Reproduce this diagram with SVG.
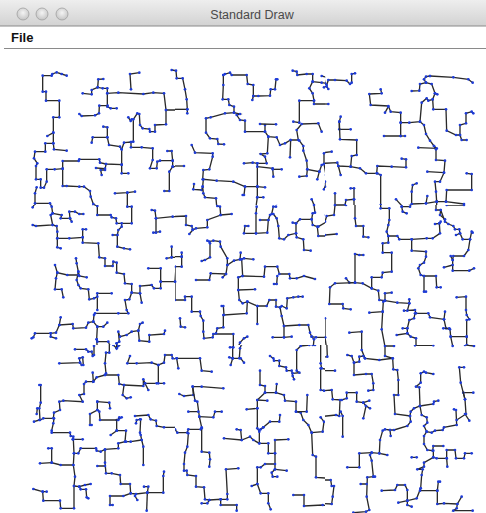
<svg xmlns="http://www.w3.org/2000/svg" width="486" height="513" viewBox="0 0 486 513">
<style>
.t{fill:none;stroke:#2a2a2a;stroke-width:4;stroke-linejoin:miter;marker-start:url(#d);marker-mid:url(#d);marker-end:url(#d)}
.title{font-family:"Liberation Sans",Arial,sans-serif;font-size:12.5px;fill:#4a4a4a}
.menu{font-family:"Liberation Sans",Arial,sans-serif;font-size:13px;font-weight:bold;fill:#111}
</style>
<defs>
<linearGradient id="tb" x1="0" y1="0" x2="0" y2="1"><stop offset="0" stop-color="#eeeeee"/><stop offset="1" stop-color="#d2d2d2"/></linearGradient>
<radialGradient id="btn" cx="0.5" cy="0.4" r="0.6"><stop offset="0" stop-color="#f4f4f4"/><stop offset="1" stop-color="#c4c4c4"/></radialGradient>
<marker id="d" markerUnits="userSpaceOnUse" markerWidth="14" markerHeight="14" refX="7" refY="7" overflow="visible"><circle cx="7" cy="7" r="4" fill="#1d3bd8"/></marker>
<clipPath id="c2"><rect x="0" y="0" width="465" height="435"/></clipPath>
<clipPath id="c3"><rect x="15" y="0" width="450" height="435"/></clipPath>
<clipPath id="c4"><rect x="15" y="0" width="483" height="435"/></clipPath>
<clipPath id="c5"><rect x="0" y="15" width="465" height="420"/></clipPath>
<clipPath id="c6"><rect x="15" y="15" width="450" height="420"/></clipPath>
<clipPath id="c7"><rect x="15" y="15" width="483" height="420"/></clipPath>
<clipPath id="c8"><rect x="0" y="15" width="465" height="505"/></clipPath>
<clipPath id="c9"><rect x="15" y="15" width="450" height="505"/></clipPath>
<clipPath id="c10"><rect x="15" y="15" width="483" height="505"/></clipPath>
</defs>
<rect width="486" height="513" fill="#ffffff"/>
<g id="window">
<rect x="0" y="0" width="486" height="26" fill="url(#tb)"/>
<line x1="0" y1="26" x2="486" y2="26" stroke="#8a8a8a" stroke-width="1"/>
<circle cx="23" cy="14" r="6" fill="url(#btn)" stroke="#a0a0a0" stroke-width="0.8"/>
<circle cx="42" cy="14" r="6" fill="url(#btn)" stroke="#a0a0a0" stroke-width="0.8"/>
<circle cx="62" cy="14" r="6" fill="url(#btn)" stroke="#a0a0a0" stroke-width="0.8"/>
<text class="title" x="252" y="19" text-anchor="middle">Standard Draw</text>
<text class="menu" x="11" y="42">File</text>
<line x1="4" y1="48.5" x2="486" y2="48.5" stroke="#8a8a8a" stroke-width="1"/>
</g>
<g id="connectors">
<g id="r2" transform="translate(20,60) scale(0.33333)" clip-path="url(#c2)">
<path class="t" d="M140 47 L125 42 L110 37 L97 42 L95 47 L68 47 L68 95 L78 95 L78 122 L118 122 L118 172 L100 172 L100 218 L100 250 L102 268 L140 272"/>
<path class="t" d="M100 218 L82 228"/>
<path class="t" d="M100 250 L76 250 L76 275 L45 275 L42 295 L52 310 L48 318 L48 358 L62 358 L62 383 L72 383 L80 365 L80 328 L104 328 L128 326 L128 378 L140 378 L178 380 L192 380 L210 393 L212 410 L220 432 L232 440"/>
<path class="t" d="M128 326 L128 303 L176 303 L178 298 L238 298 L240 308 L258 312 L305 314 L305 340 L325 340"/>
<path class="t" d="M258 312 L255 330 L242 330 L245 345"/>
<path class="t" d="M228 324 L255 326"/>
<path class="t" d="M305 314 L305 268 L312 248 L333 246 L333 262 L365 262 L398 265 L398 300 L390 325 L410 325 L412 305 L420 302 L458 302 L458 320 L478 320"/>
<path class="t" d="M442 273 L455 273 L458 302"/>
<path class="t" d="M458 320 L448 335 L448 393 L433 393"/>
<path class="t" d="M333 246 L340 245 L340 178 L352 160 L358 162 L360 195 L368 205 L388 207 L390 215 L405 215 L405 195 L438 193 L438 150 L480 150"/>
<path class="t" d="M438 150 L432 100 L400 98 L370 102 L295 98 L262 100 L262 85 L248 85 L233 82 L235 58 L250 57"/>
<path class="t" d="M262 100 L262 140 L272 145 L290 145"/>
<path class="t" d="M233 82 L215 90 L215 103 L188 100"/>
<path class="t" d="M333 88 L330 42 L358 38"/>
<path class="t" d="M325 172 L332 183 L335 178"/>
<path class="t" d="M178 162 L185 168 L225 166 L237 160 L238 137 L263 137"/>
<path class="t" d="M250 200 L262 202 L262 232 L218 232 L215 248"/>
<path class="t" d="M262 232 L267 255 L300 260 L305 268"/>
<path class="t" d="M455 30 L468 32 L470 55"/>
<path class="t" d="M285 400 L322 398 L345 395"/>
<path class="t" d="M322 398 L322 440"/>
<path class="t" d="M45 440 L45 400 L50 382"/>
<path class="t" d="M45 430 L90 430 L95 440"/>
</g>
<g id="r3" transform="translate(170,60) scale(0.33333)" clip-path="url(#c3)">
<path class="t" d="M5 30 L18 32 L20 55 L38 55 L45 88 L50 118 L52 148 L52 160"/>
<path class="t" d="M0 148 L52 148"/>
<path class="t" d="M160 45 L165 42 L180 38 L185 45 L230 45 L233 72 L250 75 L250 108 L265 108 L300 107 L302 88 L315 88 L318 58 L322 58"/>
<path class="t" d="M250 108 L247 120"/>
<path class="t" d="M160 45 L160 75 L158 118 L175 118 L178 135 L192 140 L192 158 L165 160 L122 172 L108 175 L108 218 L120 235 L142 237 L145 252 L162 253"/>
<path class="t" d="M192 158 L210 162 L200 165 L210 180 L225 182 L225 215 L285 215 L285 195"/>
<path class="t" d="M270 192 L318 193"/>
<path class="t" d="M285 215 L295 230 L320 232 L330 255 L345 250 L362 240 L385 240 L380 210 L395 192 L445 190 L455 215"/>
<path class="t" d="M362 240 L360 292"/>
<path class="t" d="M295 230 L292 280 L272 282 L285 290 L290 310 L262 310 L248 308 L222 310"/>
<path class="t" d="M262 310 L262 380 L225 380 L222 405 L218 405"/>
<path class="t" d="M262 320 L308 325 L310 350"/>
<path class="t" d="M308 328 L335 328"/>
<path class="t" d="M262 380 L285 382"/>
<path class="t" d="M262 380 L262 412 L280 412"/>
<path class="t" d="M262 412 L258 440 L262 440"/>
<path class="t" d="M225 380 L190 365 L140 362 L100 358 L98 380 L95 390 L70 388 L72 372"/>
<path class="t" d="M98 380 L100 400 L105 412 L138 415 L140 438 L148 440"/>
<path class="t" d="M65 255 L75 278 L128 280 L128 290 L118 328 L100 330 L98 358"/>
<path class="t" d="M0 275 L8 275 L8 300 L0 300"/>
<path class="t" d="M8 318 L42 318"/>
<path class="t" d="M368 32 L380 35 L382 45 L410 42 L428 42 L428 65 L455 68 L472 70 L470 52 L455 48"/>
<path class="t" d="M428 65 L418 85 L428 100 L432 122 L388 122 L388 188 L370 185"/>
<path class="t" d="M432 122 L432 132 L475 132"/>
<path class="t" d="M462 82 L472 85 L470 70"/>
<path class="t" d="M480 280 L462 280 L462 312 L455 315 L448 335 L412 328 L410 302 L400 272 L400 258 L388 242"/>
<path class="t" d="M412 328 L410 348 L388 350"/>
<path class="t" d="M448 335 L442 358"/>
<path class="t" d="M462 312 L468 345 L468 372 L462 388"/>
<path class="t" d="M315 440 L320 438"/>
<path class="t" d="M425 418 L432 435 L435 448"/>
</g>
<g id="r4" transform="translate(320,60) scale(0.33333)" clip-path="url(#c4)">
<path class="t" d="M0 48 L12 52 L15 70 L20 75 L25 60 L45 60 L80 62 L90 72 L95 68 L95 42 L105 40"/>
<path class="t" d="M10 80 L20 80 L25 87"/>
<path class="t" d="M0 132 L25 132"/>
<path class="t" d="M330 48 L318 50 L312 58 L318 68 L300 72 L298 92 L275 93"/>
<path class="t" d="M318 68 L335 72 L345 100 L352 103"/>
<path class="t" d="M330 48 L400 52 L445 58 L458 68"/>
<path class="t" d="M345 100 L338 118 L325 122 L320 115 L305 128 L300 185 L268 188 L242 188 L242 228 L192 228"/>
<path class="t" d="M242 228 L255 228"/>
<path class="t" d="M182 88 L185 100 L148 102 L152 135 L205 138 L212 155 L242 158 L242 188"/>
<path class="t" d="M205 140 L195 158"/>
<path class="t" d="M300 185 L312 195 L318 222 L330 242 L342 258 L350 265 L295 263"/>
<path class="t" d="M342 258 L348 268 L348 300 L375 302 L372 338 L322 335"/>
<path class="t" d="M338 118 L340 148 L378 148 L380 212 L408 225 L420 225 L420 195 L438 190 L438 160 L455 155 L460 160"/>
<path class="t" d="M420 225 L425 240 L440 240"/>
<path class="t" d="M62 170 L58 185 L58 208 L92 208"/>
<path class="t" d="M58 185 L60 238 L110 240 L110 285 L95 288 L92 320 L55 318 L52 308 L10 310 L12 278 L35 275"/>
<path class="t" d="M92 320 L120 325 L138 340 L170 340 L172 318 L215 320 L258 322 L258 298 L245 296"/>
<path class="t" d="M55 318 L62 345"/>
<path class="t" d="M0 365 L15 365 L15 380 L0 385"/>
<path class="t" d="M172 340 L182 345 L182 435 L205 448"/>
<path class="t" d="M45 400 L45 448"/>
<path class="t" d="M45 435 L75 435 L78 420 L102 418 L102 448"/>
<path class="t" d="M92 385 L102 385 L102 418"/>
<path class="t" d="M290 370 L278 375 L275 395 L275 435 L248 440 L245 448"/>
<path class="t" d="M248 440 L228 418"/>
<path class="t" d="M275 432 L318 430 L350 425 L378 425 L432 432"/>
<path class="t" d="M350 425 L350 448"/>
<path class="t" d="M372 338 L360 365 L345 365 L348 395 L350 425"/>
<path class="t" d="M378 425 L380 390 L455 390 L455 342 L440 340"/>
<path class="t" d="M322 408 L318 430"/>
</g>
<g id="r5" transform="translate(20,200) scale(0.33333)" clip-path="url(#c5)">
<path class="t" d="M38 22 L45 10 L92 12 L95 20 L98 40 L92 45 L98 75 L48 78 L38 75"/>
<path class="t" d="M98 40 L125 45 L122 55 L150 55 L148 35 L165 35 L178 42 L190 42"/>
<path class="t" d="M150 55 L155 65"/>
<path class="t" d="M98 75 L110 78 L112 95 L112 115 L148 115 L188 112 L188 88 L198 88"/>
<path class="t" d="M112 115 L112 142 L122 145"/>
<path class="t" d="M188 112 L188 128 L235 130 L238 172 L255 175 L255 198 L278 198 L280 185 L290 188 L290 218 L312 222 L315 250 L335 252 L335 278 L360 280 L360 258 L395 255 L402 265 L422 265 L422 245 L465 245 L468 200 L480 200"/>
<path class="t" d="M422 245 L422 205 L385 205"/>
<path class="t" d="M360 280 L365 308"/>
<path class="t" d="M335 278 L328 298 L315 300 L320 330 L325 340 L295 340 L225 340 L222 345 L220 365 L232 380 L230 418 L232 448"/>
<path class="t" d="M275 280 L232 280 L232 330"/>
<path class="t" d="M232 290 L222 295 L208 298 L205 268 L182 265 L175 255 L170 240 L175 215 L170 190 L168 175"/>
<path class="t" d="M175 215 L178 228 L200 232"/>
<path class="t" d="M175 225 L142 225 L112 218 L105 195"/>
<path class="t" d="M112 218 L108 235 L105 268 L125 268 L130 292"/>
<path class="t" d="M220 365 L205 368 L198 383 L160 385 L158 372 L118 375 L122 352"/>
<path class="t" d="M118 375 L108 398 L92 400 L45 400 L40 412 L35 415"/>
<path class="t" d="M92 400 L92 410 L108 415"/>
<path class="t" d="M232 380 L250 380 L262 368"/>
<path class="t" d="M230 418 L232 425 L265 425 L270 438 L290 440 L290 430 L298 425 L295 395 L300 410 L320 405 L335 395 L355 392 L360 372 L368 368"/>
<path class="t" d="M355 392 L358 422 L388 425 L388 405 L432 402 L435 392"/>
<path class="t" d="M290 430 L290 445"/>
<path class="t" d="M215 0 L218 12 L232 18 L232 45 L272 45 L275 52 L288 55 L290 70 L335 70 L335 20 L322 20 L322 0"/>
<path class="t" d="M305 70 L305 80 L295 90 L292 105 L278 105"/>
<path class="t" d="M292 105 L292 140 L312 145 L330 148"/>
<path class="t" d="M395 30 L405 32 L408 55 L458 50 L480 50"/>
<path class="t" d="M408 55 L408 98 L400 98 L420 95"/>
<path class="t" d="M455 140 L455 172 L440 175"/>
<path class="t" d="M455 172 L478 172"/>
<path class="t" d="M165 448 L210 448"/>
</g>
<g id="r6" transform="translate(170,200) scale(0.33333)" clip-path="url(#c6)">
<path class="t" d="M138 0 L142 18 L150 20 L152 45 L112 60 L112 82 L78 85 L68 90 L58 102"/>
<path class="t" d="M152 45 L185 42"/>
<path class="t" d="M5 50 L48 48 L48 75 L65 78 L68 88"/>
<path class="t" d="M260 20 L258 40 L258 100 L292 98 L295 60 L270 60"/>
<path class="t" d="M295 60 L300 45 L305 42 L310 20 L318 20"/>
<path class="t" d="M258 100 L222 100 L225 78 L235 78"/>
<path class="t" d="M310 42 L320 55 L325 78 L328 115 L342 118 L355 105 L378 100 L378 70 L368 68"/>
<path class="t" d="M378 70 L390 58 L425 58 L428 75 L442 80 L445 108 L468 108"/>
<path class="t" d="M378 100 L380 112 L400 118 L402 150 L422 152"/>
<path class="t" d="M425 58 L428 40 L435 38 L432 15 L425 0"/>
<path class="t" d="M445 80 L470 65 L468 45 L480 45"/>
<path class="t" d="M0 140 L0 170 L35 170 L35 158"/>
<path class="t" d="M35 170 L35 200 L15 200 L15 245 L0 245"/>
<path class="t" d="M15 245 L15 300 L45 300 L45 290 L65 290 L65 335 L90 335 L92 348 L100 362 L100 395 L102 415 L128 412 L130 402 L190 402 L190 440 L175 442"/>
<path class="t" d="M30 355 L32 380 L45 382"/>
<path class="t" d="M190 440 L205 440 L210 428 L222 415 L232 410"/>
<path class="t" d="M112 122 L118 125 L130 122 L150 125 L152 140 L172 175 L172 195 L192 182 L210 178 L212 158"/>
<path class="t" d="M210 178 L222 175 L250 178"/>
<path class="t" d="M215 178 L218 228 L205 232 L205 270 L255 268"/>
<path class="t" d="M218 228 L282 230 L285 200 L322 200 L328 222 L358 222 L360 235 L380 235 L402 228 L435 237"/>
<path class="t" d="M322 228 L320 252 L312 252"/>
<path class="t" d="M172 195 L168 222 L122 220 L118 240 L78 240"/>
<path class="t" d="M168 222 L158 232"/>
<path class="t" d="M120 130 L120 172 L105 180 L95 183"/>
<path class="t" d="M205 270 L208 300 L218 310 L232 305 L262 318 L290 318 L298 300 L318 300 L318 320 L330 322 L335 318 L350 325 L352 295 L370 292 L385 290 L398 290"/>
<path class="t" d="M232 305 L230 340 L162 345 L160 318 L155 318"/>
<path class="t" d="M160 345 L160 382 L142 385 L138 400"/>
<path class="t" d="M262 318 L262 372"/>
<path class="t" d="M330 322 L335 348 L342 378 L388 375 L415 375 L420 398 L425 410 L432 418 L430 438 L390 440 L380 448"/>
<path class="t" d="M342 378 L342 412 L308 412"/>
<path class="t" d="M342 412 L365 410"/>
<path class="t" d="M425 410 L438 412 L468 412 L468 355"/>
<path class="t" d="M468 412 L470 448"/>
</g>
<g id="r7" transform="translate(320,200) scale(0.33333)" clip-path="url(#c7)">
<path class="t" d="M45 0 L45 15 L78 15 L78 0"/>
<path class="t" d="M105 0 L105 55 L108 78 L130 78 L130 110 L145 112"/>
<path class="t" d="M45 15 L42 45 L20 48 L15 65 L0 68"/>
<path class="t" d="M15 105 L50 102"/>
<path class="t" d="M182 0 L182 25 L208 25 L208 60 L205 75 L200 95 L205 108 L232 108 L238 118 L275 118 L275 152 L318 155 L318 170 L312 188 L300 195 L295 205 L302 225 L312 228 L312 275 L318 275"/>
<path class="t" d="M312 228 L348 228 L350 262 L362 262"/>
<path class="t" d="M205 108 L205 128 L188 130 L188 158 L215 158 L215 215 L188 218 L185 232 L155 232 L155 265 L128 250 L105 248 L105 162 L118 165 L130 165"/>
<path class="t" d="M105 248 L88 248 L78 235"/>
<path class="t" d="M105 248 L45 250 L30 262 L28 312 L68 312 L70 325 L92 328"/>
<path class="t" d="M155 265 L175 272 L178 300 L195 302 L195 280 L215 278"/>
<path class="t" d="M195 302 L232 308 L268 310 L268 298"/>
<path class="t" d="M190 305 L188 335 L148 338"/>
<path class="t" d="M188 335 L185 388 L195 440 L215 440"/>
<path class="t" d="M245 0 L245 20 L270 20 L275 10 L320 5 L348 2 L348 30 L362 30 L375 65 L385 72 L400 78 L405 88 L418 88 L420 100 L428 118 L450 118 L455 95 L458 98"/>
<path class="t" d="M348 2 L378 5 L380 15 L432 15"/>
<path class="t" d="M245 20 L248 35 L260 40"/>
<path class="t" d="M362 30 L360 45 L375 58"/>
<path class="t" d="M345 72 L358 70 L362 65"/>
<path class="t" d="M358 70 L360 100 L338 115 L320 115 L275 118"/>
<path class="t" d="M450 118 L445 150 L432 168 L400 168 L398 180 L398 212 L448 212 L462 205"/>
<path class="t" d="M398 180 L392 168"/>
<path class="t" d="M398 195 L372 202"/>
<path class="t" d="M420 100 L408 105"/>
<path class="t" d="M268 310 L262 332 L252 332 L285 330 L288 340 L325 340 L330 352 L372 358 L375 335"/>
<path class="t" d="M372 358 L378 385 L390 388 L392 410 L440 410 L440 360 L448 358 L440 345 L438 330 L438 290 L410 292"/>
<path class="t" d="M440 410 L440 435 L462 440"/>
<path class="t" d="M285 340 L282 355 L268 360 L262 385 L248 385"/>
<path class="t" d="M262 385 L262 400 L230 405"/>
<path class="t" d="M262 400 L272 410 L288 415 L288 438 L340 438"/>
<path class="t" d="M388 385 L370 385"/>
<path class="t" d="M392 410 L398 438"/>
<path class="t" d="M0 410 L15 412 L20 448"/>
<path class="t" d="M15 355 L15 412"/>
<path class="t" d="M88 398 L125 395 L125 448"/>
</g>
<g id="r8" transform="translate(20,340) scale(0.33333)" clip-path="url(#c8)">
<path class="t" d="M165 28 L198 28 L205 35 L215 35 L218 48 L222 45 L222 18 L228 5 L240 0"/>
<path class="t" d="M238 5 L268 5 L268 38 L258 38 L255 70 L258 100 L255 105 L295 105 L298 132 L312 135 L308 165 L320 175 L332 172"/>
<path class="t" d="M312 135 L370 138 L370 118 L375 130 L410 130 L432 130"/>
<path class="t" d="M375 130 L385 150"/>
<path class="t" d="M415 130 L415 75 L432 68 L435 45 L455 45 L458 55 L472 58 L478 80"/>
<path class="t" d="M415 75 L395 68 L350 70 L322 70 L330 48"/>
<path class="t" d="M268 5 L290 8 L290 25 L295 18 L315 5"/>
<path class="t" d="M280 15 L290 25"/>
<path class="t" d="M118 70 L180 68 L178 55 L188 52 L190 75"/>
<path class="t" d="M180 68 L185 75"/>
<path class="t" d="M255 105 L230 112 L220 125 L218 98"/>
<path class="t" d="M220 125 L198 125 L192 132 L192 162 L178 165 L188 185 L130 182 L118 185 L120 210 L102 218 L100 235 L70 235 L60 240 L58 205 L62 188 L62 135 L58 135"/>
<path class="t" d="M102 235 L100 250 L95 272 L95 278 L150 278 L152 288 L160 290 L158 298 L188 298"/>
<path class="t" d="M58 240 L42 245"/>
<path class="t" d="M52 205 L50 222"/>
<path class="t" d="M160 298 L162 340 L175 340 L182 325 L228 325 L230 332 L242 335 L255 328 L295 325 L295 310 L315 305 L318 272 L290 272 L290 240 L298 235 L305 232"/>
<path class="t" d="M290 272 L272 285"/>
<path class="t" d="M162 340 L160 375 L122 375 L95 368 L95 325 L85 325"/>
<path class="t" d="M95 368 L60 370"/>
<path class="t" d="M160 375 L165 410 L162 438 L162 505 L122 505 L120 482 L70 482 L68 455 L40 447"/>
<path class="t" d="M68 455 L80 455"/>
<path class="t" d="M162 438 L178 440 L182 448 L198 448 L200 472 L205 475"/>
<path class="t" d="M178 440 L195 435 L212 432"/>
<path class="t" d="M255 330 L255 368 L258 400 L275 400 L300 405 L302 432 L330 432 L332 460 L348 462 L382 458 L385 440 L372 440"/>
<path class="t" d="M382 458 L380 512"/>
<path class="t" d="M332 460 L310 468 L270 468 L270 495 L278 495"/>
<path class="t" d="M345 468 L352 480"/>
<path class="t" d="M382 458 L430 458 L430 408 L432 395"/>
<path class="t" d="M232 185 L232 210 L210 222 L210 255 L215 255"/>
<path class="t" d="M232 210 L238 215 L240 240 L295 240 L298 232"/>
<path class="t" d="M232 185 L268 188 L270 205"/>
<path class="t" d="M345 228 L385 225 L392 238 L408 242 L410 258 L432 262 L468 262 L470 280"/>
<path class="t" d="M362 238 L360 278 L362 285 L365 300 L370 320 L370 375"/>
<path class="t" d="M365 300 L332 305 L318 305"/>
<path class="t" d="M360 238 L350 240 L348 250"/>
<path class="t" d="M232 378 L255 378"/>
</g>
<g id="r9" transform="translate(170,340) scale(0.33333)" clip-path="url(#c9)">
<path class="t" d="M0 45 L0 55 L20 55 L25 85"/>
<path class="t" d="M20 55 L90 55 L95 92 L125 95"/>
<path class="t" d="M180 22 L188 22 L188 55 L178 52"/>
<path class="t" d="M188 55 L212 55 L222 68"/>
<path class="t" d="M188 55 L182 75"/>
<path class="t" d="M208 55 L210 25 L215 12"/>
<path class="t" d="M190 0 L190 22"/>
<path class="t" d="M300 48 L310 55 L312 62 L328 62 L328 78 L348 82 L350 92 L365 92 L368 108 L372 118"/>
<path class="t" d="M368 100 L388 98 L380 92 L380 30 L392 18 L418 15 L428 8 L430 0"/>
<path class="t" d="M428 15 L435 15"/>
<path class="t" d="M270 92 L270 135 L285 138 L285 158 L318 158 L320 132"/>
<path class="t" d="M318 158 L342 165 L345 182 L378 185 L378 215 L392 218 L400 240 L415 255 L425 278 L428 345 L438 350 L438 412 L480 415"/>
<path class="t" d="M378 215 L410 215 L412 165"/>
<path class="t" d="M285 158 L262 180 L262 205 L230 208"/>
<path class="t" d="M262 180 L292 182"/>
<path class="t" d="M262 205 L262 265 L268 275 L268 310 L295 310 L295 340 L315 340 L315 300 L355 298"/>
<path class="t" d="M268 310 L250 300 L240 290 L215 300 L212 270 L200 268"/>
<path class="t" d="M215 300 L162 295"/>
<path class="t" d="M268 270 L280 262 L300 245 L328 245 L330 225"/>
<path class="t" d="M280 262 L272 268"/>
<path class="t" d="M315 340 L315 388 L305 398 L308 410 L322 410"/>
<path class="t" d="M315 388 L350 392"/>
<path class="t" d="M315 372 L285 372 L272 382 L262 382 L262 432 L245 438"/>
<path class="t" d="M262 432 L272 460 L295 460 L295 490 L302 508"/>
<path class="t" d="M452 0 L452 70 L455 85 L480 90"/>
<path class="t" d="M452 85 L452 150 L462 152"/>
<path class="t" d="M425 278 L458 275 L462 245 L452 232"/>
<path class="t" d="M28 162 L42 168 L70 165 L68 140 L95 140 L160 145"/>
<path class="t" d="M68 140 L75 182 L82 185 L88 230 L95 262 L92 268 L55 268 L52 278 L22 278 L15 268"/>
<path class="t" d="M88 230 L130 232 L135 215 L155 215"/>
<path class="t" d="M85 215 L55 215"/>
<path class="t" d="M95 265 L95 335 L118 338 L120 358 L118 380"/>
<path class="t" d="M55 280 L52 320 L45 338 L42 372 L42 392 L50 392 L52 405 L78 408 L78 440 L102 442 L105 478 L118 480 L112 490 L95 490"/>
<path class="t" d="M118 480 L152 478 L152 495 L200 495 L200 512"/>
<path class="t" d="M152 478 L172 478 L172 462 L168 388 L205 385"/>
<path class="t" d="M370 465 L402 465 L402 498 L458 495 L480 498"/>
</g>
<g id="r10" transform="translate(320,340) scale(0.33333)" clip-path="url(#c10)">
<path class="t" d="M20 0 L22 50 L0 52"/>
<path class="t" d="M0 68 L5 68 L5 152 L12 152 L35 150 L38 178 L65 180 L80 175 L80 158 L110 158 L110 185 L130 188 L138 198 L130 235"/>
<path class="t" d="M60 180 L58 228 L48 225 L0 230 L8 240 L10 272"/>
<path class="t" d="M62 215 L68 228 L68 290"/>
<path class="t" d="M5 92 L45 92"/>
<path class="t" d="M130 188 L148 182"/>
<path class="t" d="M138 198 L150 205"/>
<path class="t" d="M125 0 L125 30 L135 55 L178 60 L218 55 L220 88 L232 90 L235 120 L235 165 L222 165 L225 222 L270 228 L272 215 L282 205 L300 198 L340 192 L342 185 L355 182"/>
<path class="t" d="M218 55 L195 48 L195 18 L222 18"/>
<path class="t" d="M135 55 L130 48 L118 50 L118 65 L102 68 L95 48 L82 45"/>
<path class="t" d="M102 68 L102 105 L138 102 L155 102 L160 130 L160 150 L145 152"/>
<path class="t" d="M285 16 L340 16"/>
<path class="t" d="M398 0 L398 18"/>
<path class="t" d="M435 0 L435 15 L462 18"/>
<path class="t" d="M270 228 L272 245 L262 258 L222 270 L210 270 L212 288"/>
<path class="t" d="M210 270 L195 268 L188 272 L180 300 L178 340 L155 338 L150 345 L155 362 L160 410 L165 410"/>
<path class="t" d="M178 340 L202 345"/>
<path class="t" d="M155 338 L118 340 L118 382 L82 382"/>
<path class="t" d="M160 410 L142 412 L140 470 L148 510 L138 515 L100 518"/>
<path class="t" d="M140 432 L122 432"/>
<path class="t" d="M300 198 L298 142 L288 140 L302 128 L302 100 L312 95 L318 98 L340 102"/>
<path class="t" d="M300 198 L305 225 L320 232 L322 248 L312 258 L320 275 L335 278 L345 272 L368 270 L372 262 L410 255 L408 210 L402 208"/>
<path class="t" d="M410 240 L438 222 L435 178 L430 158 L460 158"/>
<path class="t" d="M435 178 L422 128 L418 82 L432 82"/>
<path class="t" d="M435 222 L448 242"/>
<path class="t" d="M320 275 L312 288 L312 312 L322 330 L338 332 L340 318 L370 318"/>
<path class="t" d="M340 332 L340 352 L350 355 L380 355 L380 330 L405 330 L408 355 L432 355 L435 340 L455 340"/>
<path class="t" d="M380 355 L382 380"/>
<path class="t" d="M340 352 L312 368 L312 380 L292 388 L308 388 L305 405 L302 445 L290 475 L262 482 L262 495 L275 500"/>
<path class="t" d="M302 445 L300 452 L352 452 L352 492 L372 490 L412 492 L410 505 L400 512 L458 512"/>
<path class="t" d="M352 452 L355 425 L360 425"/>
<path class="t" d="M275 352 L290 352"/>
<path class="t" d="M262 482 L262 450 L255 435 L232 435 L225 450 L185 452"/>
<path class="t" d="M262 482 L235 488"/>
<path class="t" d="M412 492 L425 470"/>
<path class="t" d="M0 420 L32 420 L35 438 L42 438 L38 470 L35 492 L0 490"/>
</g>
</g>
</svg>
